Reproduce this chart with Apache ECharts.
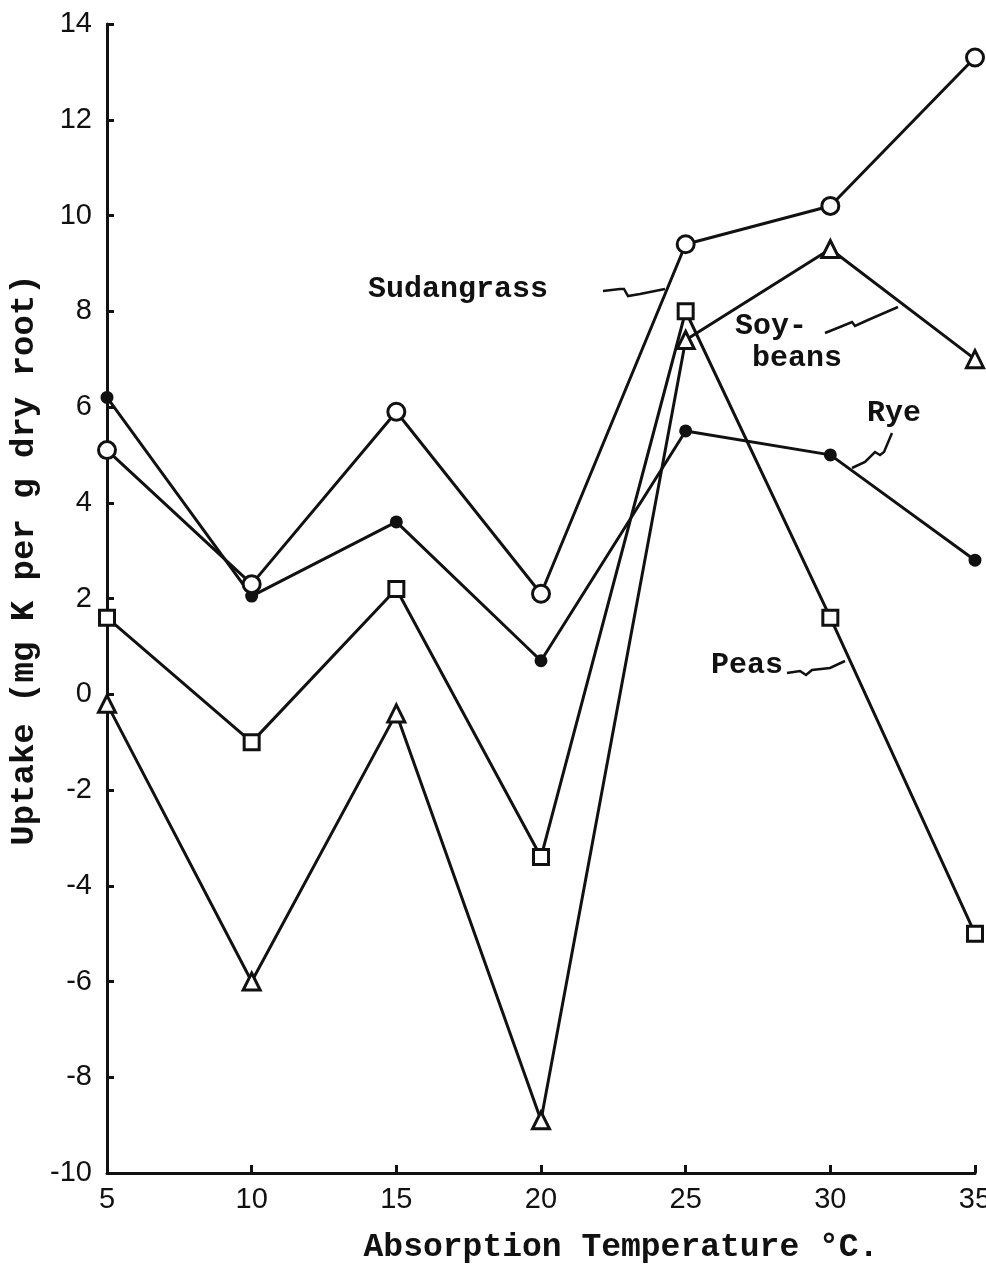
<!DOCTYPE html>
<html><head><meta charset="utf-8">
<script src="https://cdn.jsdelivr.net/npm/echarts@6/dist/echarts.min.js"></script>
<style>html,body{margin:0;padding:0;background:#fff}#c{width:986px;height:1269px}</style>
</head><body><div id="c"></div>
<script>
const temperatures = [5, 10, 15, 20, 25, 30, 35];
const sudangrass = [5.1, 2.3, 5.9, 2.1, 9.4, 10.2, 13.3];
const rye = [6.2, 2.05, 3.6, 0.7, 5.5, 5.0, 2.8];
const peas = [1.6, -1.0, 2.2, -3.4, 8.0, 1.6, -5.0];
const soybeans = [-0.2, -6.0, -0.4, -8.9, 7.4, 9.3, 7.0];
const xTicks = [5, 10, 15, 20, 25, 30, 35];
const yTicks = [-10, -8, -6, -4, -2, 0, 2, 4, 6, 8, 10, 12, 14];

const pair = arr => temperatures.map((t, i) => [t, arr[i]]);
const ink = '#111';
const tickFont = '"Liberation Sans",Arial,sans-serif';
const typeFont = '"Liberation Mono","DejaVu Sans Mono",monospace';

function lineSeries(name, data, symbol, size, filled) {
  return {
    name, type: 'line', data: pair(data), symbol, symbolSize: size,
    lineStyle: { color: ink, width: 3 },
    itemStyle: { color: filled ? ink : '#fff', borderColor: ink, borderWidth: 3 },
    z: filled ? 3 : 4, animation: false
  };
}

const chart = echarts.init(document.getElementById('c'));
chart.setOption({
  backgroundColor: '#fff',
  animation: false,
  grid: { left: 107, right: 11, top: 24, bottom: 96, containLabel: false, outerBoundsMode: 'none' },
  xAxis: {
    type: 'value', min: 5, max: 35, interval: 5,
    axisLine: { onZero: false, lineStyle: { color: ink, width: 3 } },
    axisTick: { inside: true, length: 8, lineStyle: { color: ink, width: 3 } },
    splitLine: { show: false },
    axisLabel: { color: ink, fontFamily: tickFont, fontSize: 29, margin: 12,
      formatter: v => xTicks.includes(v) ? String(v) : '' }
  },
  yAxis: {
    type: 'value', min: -10, max: 14, interval: 2,
    axisLine: { onZero: false, lineStyle: { color: ink, width: 3 } },
    axisTick: { inside: true, length: 7, lineStyle: { color: ink, width: 3 } },
    splitLine: { show: false },
    axisLabel: { color: ink, fontFamily: tickFont, fontSize: 29, margin: 15,
      formatter: v => yTicks.includes(v) ? String(v) : '' }
  },
  series: [
    lineSeries('Rye', rye, 'circle', 10, true),
    lineSeries('Peas', peas, 'rect', 15, false),
    lineSeries('Soybeans', soybeans, 'triangle', 17, false),
    lineSeries('Sudangrass', sudangrass, 'circle', 17, false)
  ],
  graphic: [
    { type: 'text', x: 24, y: 560, rotation: Math.PI / 2, style: { text: 'Uptake (mg K per g dry root)',
      align: 'center', verticalAlign: 'middle', fill: ink, font: 'bold 34px ' + typeFont } },
    { type: 'text', x: 621, y: 1248, style: { text: 'Absorption Temperature °C.',
      align: 'center', verticalAlign: 'middle', fill: ink, font: 'bold 33px ' + typeFont } },
    { type: 'text', x: 368, y: 289, style: { text: 'Sudangrass', verticalAlign: 'middle', fill: ink, font: 'bold 30px ' + typeFont } },
    { type: 'text', x: 735, y: 326, style: { text: 'Soy-', verticalAlign: 'middle', fill: ink, font: 'bold 30px ' + typeFont } },
    { type: 'text', x: 752, y: 358, style: { text: 'beans', verticalAlign: 'middle', fill: ink, font: 'bold 30px ' + typeFont } },
    { type: 'text', x: 867, y: 413, style: { text: 'Rye', verticalAlign: 'middle', fill: ink, font: 'bold 30px ' + typeFont } },
    { type: 'text', x: 711, y: 665, style: { text: 'Peas', verticalAlign: 'middle', fill: ink, font: 'bold 30px ' + typeFont } },
    { type: 'polyline', shape: { points: [[603,291],[620,289],[624,289],[628,296],[640,294],[665,289]] },
      style: { stroke: ink, lineWidth: 2.5, fill: null } },
    { type: 'polyline', shape: { points: [[825,333],[840,327],[852,322],[855,326],[868,320],[898,307]] },
      style: { stroke: ink, lineWidth: 2.5, fill: null } },
    { type: 'polyline', shape: { points: [[892,433],[884,452],[880,455],[875,452],[865,462],[852,468]] },
      style: { stroke: ink, lineWidth: 2.5, fill: null } },
    { type: 'polyline', shape: { points: [[787,673],[800,671],[806,675],[812,670],[830,668],[845,661]] },
      style: { stroke: ink, lineWidth: 2.5, fill: null } }
  ]
});
</script></body></html>
